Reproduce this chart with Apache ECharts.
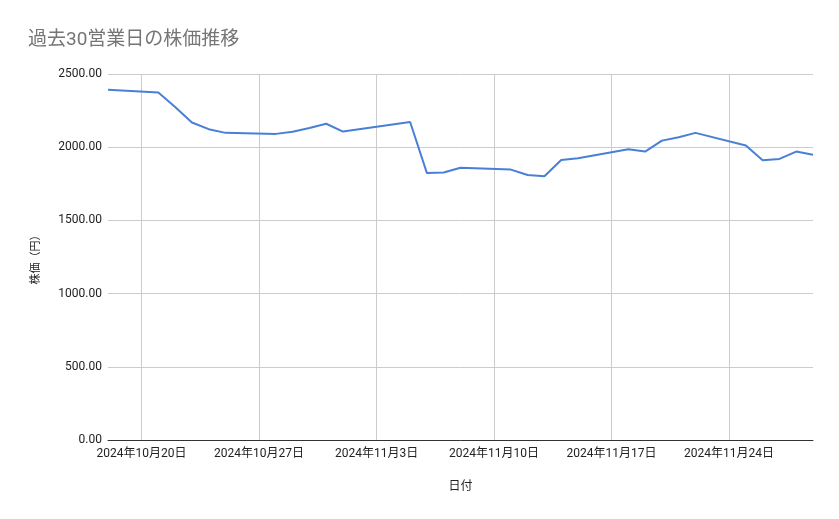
<!DOCTYPE html>
<html>
<head>
<meta charset="utf-8">
<script src="https://cdn.jsdelivr.net/npm/echarts@6/dist/echarts.min.js"></script>
<style>html,body{margin:0;padding:0;background:#fff;}#c{width:839px;height:519px;}</style>
</head>
<body>
<div id="c"></div>
<script>
// Business days (2024) and closing prices
const dates = ["2024-10-18","2024-10-21","2024-10-22","2024-10-23","2024-10-24","2024-10-25",
  "2024-10-28","2024-10-29","2024-10-30","2024-10-31","2024-11-01",
  "2024-11-05","2024-11-06","2024-11-07","2024-11-08",
  "2024-11-11","2024-11-12","2024-11-13","2024-11-14","2024-11-15",
  "2024-11-18","2024-11-19","2024-11-20","2024-11-21","2024-11-22",
  "2024-11-25","2024-11-26","2024-11-27","2024-11-28","2024-11-29"];
const prices = [2392,2374,2274,2169,2123,2098,
  2091,2105,2131,2160,2107,
  2172,1823,1827,1860,
  1847,1810,1801,1913,1925,
  1986,1970,2045,2068,2098,
  2011,1911,1920,1970,1949];
const yTicks = [0,500,1000,1500,2000,2500];

// Build a calendar-day category axis from first to last date
function parse(s){const p=s.split('-').map(Number);return Date.UTC(p[0],p[1]-1,p[2]);}
function fmt(t){const d=new Date(t);const y=d.getUTCFullYear(),m=d.getUTCMonth()+1,dd=d.getUTCDate();
  return y+'-'+String(m).padStart(2,'0')+'-'+String(dd).padStart(2,'0');}
const days=[];
for(let t=parse(dates[0]);t<=parse(dates[dates.length-1]);t+=86400000){days.push(fmt(t));}
const priceMap={};dates.forEach((d,i)=>priceMap[d]=prices[i]);
const seriesData=days.map(d=>priceMap[d]!==undefined?priceMap[d]:null);
const isSunday=(idx)=>new Date(parse(days[idx])).getUTCDay()===0;

const chart=echarts.init(document.getElementById('c'));
chart.setOption({
  animation:false,
  backgroundColor:'#fff',
  title:{text:'過去30営業日の株価推移',left:23,top:26,
    textStyle:{color:'#757575',fontSize:19,fontWeight:'normal',fontFamily:'Roboto, "Noto Sans CJK JP", sans-serif'}},
  grid:{left:108,right:26,top:74,bottom:79,containLabel:false},
  xAxis:{type:'category',data:days,boundaryGap:false,
    name:'日付',nameLocation:'middle',nameGap:41,
    nameTextStyle:{color:'#222',fontSize:12,fontFamily:'Roboto, "Noto Sans CJK JP", sans-serif'},
    axisLine:{show:true,lineStyle:{color:'#333',width:1}},
    axisTick:{show:false},
    axisLabel:{interval:(i)=>isSunday(i),color:'#222',fontSize:12,margin:8,
      fontFamily:'Roboto, "Noto Sans CJK JP", sans-serif',
      formatter:(v)=>{const p=v.split('-').map(Number);return p[0]+'年'+p[1]+'月'+p[2]+'日';}},
    splitLine:{show:true,interval:(i)=>isSunday(i),lineStyle:{color:'#cccccc',width:1}}
  },
  yAxis:{type:'value',min:yTicks[0],max:yTicks[yTicks.length-1],interval:500,
    name:'株価（円）',nameLocation:'middle',nameGap:68,nameRotate:90,
    nameTextStyle:{color:'#222',fontSize:11,fontFamily:'"Noto Sans CJK JP", sans-serif'},
    axisLine:{show:false},axisTick:{show:false},
    axisLabel:{color:'#222',fontSize:12,margin:6,fontFamily:'Roboto, "Noto Sans CJK JP", sans-serif',
      formatter:(v)=>v.toFixed(2)},
    splitLine:{lineStyle:{color:'#cccccc',width:1}}
  },
  series:[{type:'line',data:seriesData,connectNulls:true,showSymbol:false,symbol:'none',
    lineStyle:{color:'#4a7fd6',width:2},itemStyle:{color:'#4a7fd6'}}]
});
</script>
</body>
</html>
